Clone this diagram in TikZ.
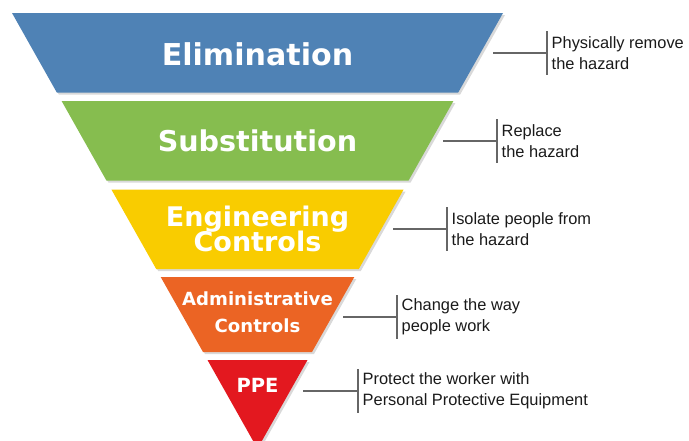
\documentclass[tikz,border=0pt]{standalone}
\usepackage{fontspec}
\setmainfont{Liberation Sans}
\newfontfamily\bandfont{DejaVu Sans}
\usetikzlibrary{calc}
\usetikzlibrary{shadows}
\definecolor{elimblue}{HTML}{4F82B5}
\definecolor{substgreen}{HTML}{86BD4F}
\definecolor{enggold}{HTML}{F9CC00}
\definecolor{adminorange}{HTML}{EB6424}
\definecolor{ppered}{HTML}{E3181F}
\definecolor{desctext}{HTML}{1A1A1A}
\lineskiplimit=-30pt
\tikzstyle{band} = [drop shadow={opacity=0.3, shadow xshift=2pt, shadow yshift=-2pt}]
\tikzstyle{title} = [text=white, align=center, inner sep=0pt]
\tikzstyle{desc} = [align=left, anchor=west, inner xsep=4.5pt, inner ysep=0pt,
    minimum height=43pt, text=desctext, font=\fontsize{16.4}{20.5}\selectfont]
\tikzstyle{line} = [draw, black!60, line width=1.1pt]

\begin{document}
\begin{tikzpicture}[x=1pt, y=-1pt]
    \useasboundingbox (0,0) rectangle (689,440);
    % Draw bands of the funnel
    \fill [band, fill=elimblue] (12,13) -- (503,13) -- (458.2,92.5) -- (56.8,92.5) -- cycle;
    \fill [band, fill=substgreen] (61.6,101) -- (453.4,101) -- (408.6,180.5) -- (106.4,180.5) -- cycle;
    \fill [band, fill=enggold] (111.4,189.5) -- (403.6,189.5) -- (358.8,269) -- (156.2,269) -- cycle;
    \fill [band, fill=adminorange] (160.7,277) -- (354.3,277) -- (312,352) -- (203,352) -- cycle;
    \fill [band, fill=ppered] (207.5,360) -- (307.5,360) -- (257.5,448.7) -- cycle;
    % Place nodes
    \node [title, font=\bandfont\bfseries\fontsize{30.1}{30}\selectfont] (elim) at (257.5,54.2) {Elimination};
    \node [title, font=\bandfont\bfseries\fontsize{28.6}{28}\selectfont] (subst) at (257.5,141.2) {Substitution};
    \node [title, font=\bandfont\bfseries\fontsize{27}{25}\selectfont] (eng) at (257.5,229) {Engineering\\Controls};
    \node [title, font=\bandfont\bfseries\fontsize{18.1}{27}\selectfont] (admin) at (257.5,312.7) {Administrative\\Controls};
    \node [title, font=\bandfont\bfseries\fontsize{19.5}{19.5}\selectfont] (ppe) at (257.5,384.9) {PPE};
    \node [desc] (d1) at (547,53) {Physically remove\\the hazard};
    \node [desc] (d2) at (497,141) {Replace\\the hazard};
    \node [desc] (d3) at (447,229) {Isolate people from\\the hazard};
    \node [desc] (d4) at (397,317) {Change the way\\people work};
    \node [desc] (d5) at (358,391) {Protect the worker with\\Personal Protective Equipment};
    \coordinate (e1) at (493,53);
    \coordinate (e2) at (443,141);
    \coordinate (e3) at (393,229);
    \coordinate (e4) at (343,317);
    \coordinate (e5) at (303,391);
    % Draw edges
    \path [line] (e1) -- (d1.west);
    \path [line] (d1.north west) -- (d1.south west);
    \path [line] (e2) -- (d2.west);
    \path [line] (d2.north west) -- (d2.south west);
    \path [line] (e3) -- (d3.west);
    \path [line] (d3.north west) -- (d3.south west);
    \path [line] (e4) -- (d4.west);
    \path [line] (d4.north west) -- (d4.south west);
    \path [line] (e5) -- (d5.west);
    \path [line] (d5.north west) -- (d5.south west);
\end{tikzpicture}
\end{document}
